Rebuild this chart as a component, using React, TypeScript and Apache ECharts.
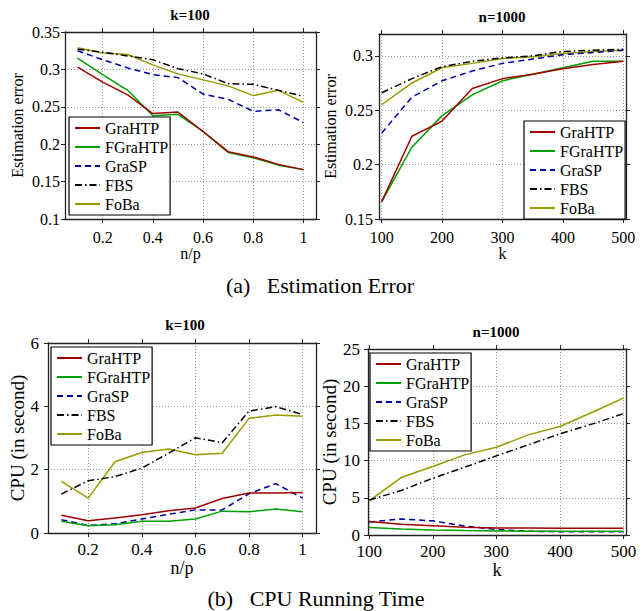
import React, { useEffect, useRef } from "react";
import * as echarts from "echarts";

const seriesNames = ["GraHTP", "FGraHTP", "GraSP", "FBS", "FoBa"];
const ratios = [0.1, 0.2, 0.3, 0.4, 0.5, 0.6, 0.7, 0.8, 0.9, 1.0];
const kValues = [100, 150, 200, 250, 300, 350, 400, 450, 500];

const ratioTicks = [0.2, 0.4, 0.6, 0.8, 1];
const kTicks = [100, 200, 300, 400, 500];
const errRatioTicks = [0.1, 0.15, 0.2, 0.25, 0.3, 0.35];
const errKTicks = [0.15, 0.2, 0.25, 0.3];
const cpuRatioTicks = [0, 2, 4, 6];
const cpuKTicks = [0, 5, 10, 15, 20, 25];

// (a) Estimation error, k=100, vs n/p
const errRatioGraHTP = [0.303, 0.283, 0.266, 0.241, 0.243, 0.217, 0.19, 0.183, 0.173, 0.166];
const errRatioFGraHTP = [0.315, 0.293, 0.272, 0.238, 0.24, 0.217, 0.189, 0.182, 0.172, 0.166];
const errRatioGraSP = [0.325, 0.313, 0.302, 0.293, 0.289, 0.267, 0.26, 0.244, 0.246, 0.229];
const errRatioFBS = [0.327, 0.323, 0.318, 0.313, 0.301, 0.294, 0.281, 0.28, 0.272, 0.264];
const errRatioFoBa = [0.329, 0.322, 0.32, 0.306, 0.294, 0.286, 0.278, 0.265, 0.272, 0.256];

// (a) Estimation error, n=1000, vs k
const errKGraHTP = [0.166, 0.226, 0.24, 0.27, 0.279, 0.283, 0.288, 0.292, 0.295];
const errKFGraHTP = [0.166, 0.216, 0.245, 0.264, 0.277, 0.283, 0.289, 0.295, 0.295];
const errKGraSP = [0.229, 0.262, 0.277, 0.286, 0.293, 0.297, 0.301, 0.303, 0.305];
const errKFBS = [0.266, 0.279, 0.29, 0.295, 0.298, 0.3, 0.304, 0.305, 0.306];
const errKFoBa = [0.255, 0.275, 0.289, 0.293, 0.2975, 0.299, 0.302, 0.304, 0.305];

// (b) CPU time, k=100, vs n/p
const cpuRatioGraHTP = [0.56, 0.39, 0.47, 0.58, 0.7, 0.79, 1.09, 1.26, 1.26, 1.28];
const cpuRatioFGraHTP = [0.37, 0.23, 0.26, 0.37, 0.37, 0.44, 0.69, 0.67, 0.755, 0.67];
const cpuRatioGraSP = [0.42, 0.24, 0.29, 0.44, 0.59, 0.73, 0.73, 1.24, 1.56, 1.1];
const cpuRatioFBS = [1.23, 1.65, 1.78, 2.05, 2.52, 3.01, 2.85, 3.85, 3.99, 3.74];
const cpuRatioFoBa = [1.63, 1.1, 2.25, 2.54, 2.65, 2.47, 2.52, 3.62, 3.73, 3.69];

// (b) CPU time, n=1000, vs k
const cpuKGraHTP = [1.8, 1.45, 1.25, 1.05, 0.95, 0.95, 0.9, 0.9, 0.9];
const cpuKFGraHTP = [1.0, 0.8, 0.68, 0.6, 0.55, 0.52, 0.5, 0.5, 0.52];
const cpuKGraSP = [1.75, 2.15, 1.9, 1.2, 0.75, 0.5, 0.45, 0.45, 0.45];
const cpuKFBS = [4.7, 5.97, 7.63, 9.1, 10.64, 12.12, 13.6, 14.9, 16.3];
const cpuKFoBa = [4.6, 7.72, 9.2, 10.77, 11.8, 13.46, 14.59, 16.47, 18.4];

const FONT = "Liberation Serif";

const lineStyles = [
  { color: "#a00000", type: "solid" as any },
  { color: "#00a000", type: "solid" as any },
  { color: "#0000a0", type: [6, 4] as any },
  { color: "#000000", type: [7, 3, 1.5, 3] as any },
  { color: "#999900", type: "solid" as any },
];

type Panel = {
  grid: { left: number; top: number; width: number; height: number };
  xs: number[];
  ys: number[][];
  xMin: number;
  xMax: number;
  xStep: number;
  xTicks: number[];
  yMin: number;
  yMax: number;
  yStep: number;
  yTicks: number[];
  xName: string;
  yName: string;
  xNameGap: number;
  yNameGap: number;
  xNameSize: number;
  yNameSize: number;
  tickSize: number;
  xLabelMargin: number;
  yLabelMargin: number;
  title: string;
  titleX: number;
  titleY: number;
  legend: { left: number; top: number };
};

const panels: Panel[] = [
  {
    grid: { left: 65, top: 32, width: 251, height: 187 },
    xs: ratios,
    ys: [errRatioGraHTP, errRatioFGraHTP, errRatioGraSP, errRatioFBS, errRatioFoBa],
    xMin: 0.05, xMax: 1.05, xStep: 0.2, xTicks: ratioTicks,
    yMin: 0.1, yMax: 0.35, yStep: 0.05, yTicks: errRatioTicks,
    xName: "n/p", yName: "Estimation error",
    xNameGap: 23, yNameGap: 40, xNameSize: 16, yNameSize: 16, tickSize: 16,
    xLabelMargin: 10, yLabelMargin: 5,
    title: "k=100", titleX: 190, titleY: 15,
    legend: { left: 69, top: 117 },
  },
  {
    grid: { left: 379, top: 34, width: 247, height: 185 },
    xs: kValues,
    ys: [errKGraHTP, errKFGraHTP, errKGraSP, errKFBS, errKFoBa],
    xMin: 95.5, xMax: 504.5, xStep: 100, xTicks: kTicks,
    yMin: 0.15, yMax: 0.32, yStep: 0.05, yTicks: errKTicks,
    xName: "k", yName: "Estimation error",
    xNameGap: 24, yNameGap: 41, xNameSize: 16, yNameSize: 16, tickSize: 16,
    xLabelMargin: 10, yLabelMargin: 6,
    title: "n=1000", titleX: 502, titleY: 17,
    legend: { left: 524, top: 121 },
  },
  {
    grid: { left: 48, top: 343, width: 268, height: 190 },
    xs: ratios,
    ys: [cpuRatioGraHTP, cpuRatioFGraHTP, cpuRatioGraSP, cpuRatioFBS, cpuRatioFoBa],
    xMin: 0.05, xMax: 1.05, xStep: 0.2, xTicks: ratioTicks,
    yMin: 0, yMax: 6, yStep: 2, yTicks: cpuRatioTicks,
    xName: "n/p", yName: "CPU (in second)",
    xNameGap: 23, yNameGap: 20, xNameSize: 18, yNameSize: 19, tickSize: 17,
    xLabelMargin: 8, yLabelMargin: 9,
    title: "k=100", titleX: 185, titleY: 325,
    legend: { left: 51, top: 347 },
  },
  {
    grid: { left: 368, top: 349, width: 258, height: 186 },
    xs: kValues,
    ys: [cpuKGraHTP, cpuKFGraHTP, cpuKGraSP, cpuKFBS, cpuKFoBa],
    xMin: 98, xMax: 504, xStep: 100, xTicks: kTicks,
    yMin: 0, yMax: 25, yStep: 5, yTicks: cpuKTicks,
    xName: "k", yName: "CPU (in second)",
    xNameGap: 22, yNameGap: 29, xNameSize: 18, yNameSize: 19, tickSize: 17,
    xLabelMargin: 8, yLabelMargin: 8,
    title: "n=1000", titleX: 496, titleY: 332,
    legend: { left: 370, top: 353 },
  },
];

const AXIS_COLOR = "#222";

function buildOption() {
  const grid: any[] = [];
  const xAxis: any[] = [];
  const yAxis: any[] = [];
  const series: any[] = [];
  const legend: any[] = [];
  const graphic: any[] = [];

  panels.forEach((p, gi) => {
    grid.push({ ...p.grid, containLabel: false });
    const common = {
      gridIndex: gi,
      type: "value",
      axisLine: { show: true, onZero: false, lineStyle: { color: AXIS_COLOR, width: 1.3 } },
    };
    xAxis.push({
      ...common,
      position: "bottom",
      min: p.xMin,
      max: p.xMax,
      minInterval: p.xStep,
      maxInterval: p.xStep,
      name: p.xName,
      nameLocation: "middle",
      nameGap: p.xNameGap,
      nameTextStyle: { fontFamily: FONT, fontSize: p.xNameSize, color: "#000" },
      axisTick: { show: true, length: 4, customValues: p.xTicks, lineStyle: { color: AXIS_COLOR } },
      axisLabel: {
        show: true,
        customValues: p.xTicks,
        margin: p.xLabelMargin,
        fontFamily: FONT,
        fontSize: p.tickSize,
        color: "#000",
      },
      splitLine: { show: true, lineStyle: { color: "#9a9a9a", type: [1, 2], width: 1 } },
    });
    xAxis.push({
      ...common,
      position: "top",
      min: p.xMin,
      max: p.xMax,
      minInterval: p.xStep,
      maxInterval: p.xStep,
      axisTick: { show: true, length: 4, customValues: p.xTicks, lineStyle: { color: AXIS_COLOR } },
      axisLabel: { show: false },
      splitLine: { show: false },
    });
    yAxis.push({
      ...common,
      position: "left",
      min: p.yMin,
      max: p.yMax,
      minInterval: p.yStep,
      maxInterval: p.yStep,
      name: p.yName,
      nameLocation: "middle",
      nameGap: p.yNameGap,
      nameTextStyle: { fontFamily: FONT, fontSize: p.yNameSize, color: "#000" },
      axisTick: { show: true, length: 4, customValues: p.yTicks, lineStyle: { color: AXIS_COLOR } },
      axisLabel: {
        show: true,
        customValues: p.yTicks,
        margin: p.yLabelMargin,
        fontFamily: FONT,
        fontSize: p.tickSize,
        color: "#000",
      },
      splitLine: { show: true, lineStyle: { color: "#9a9a9a", type: [1, 2], width: 1 } },
    });
    yAxis.push({
      ...common,
      position: "right",
      min: p.yMin,
      max: p.yMax,
      minInterval: p.yStep,
      maxInterval: p.yStep,
      axisTick: { show: true, length: 4, customValues: p.yTicks, lineStyle: { color: AXIS_COLOR } },
      axisLabel: { show: false },
      splitLine: { show: false },
    });

    p.ys.forEach((vals, si) => {
      series.push({
        type: "line",
        name: seriesNames[si],
        xAxisIndex: gi * 2,
        yAxisIndex: gi * 2,
        data: p.xs.map((x, i) => [x, vals[i]]),
        symbol: "none",
        showSymbol: false,
        silent: true,
        z: 2 + (4 - si) * 0.1,
        lineStyle: { color: lineStyles[si].color, width: 1.5, type: lineStyles[si].type },
        itemStyle: { color: lineStyles[si].color, opacity: 0 },
      });
    });

    legend.push({
      left: p.legend.left,
      top: p.legend.top,
      orient: "vertical",
      itemWidth: 25,
      itemHeight: 14,
      itemGap: 3,
      padding: [3, 2, 3, 5],
      borderColor: "#000",
      borderWidth: 1.2,
      backgroundColor: "#fff",
      selectedMode: false,
      textStyle: { fontFamily: FONT, fontSize: 16, color: "#000" },
      data: seriesNames,
    });

    graphic.push({
      type: "text",
      x: p.titleX,
      y: p.titleY,
      style: {
        text: p.title,
        font: `bold 15px ${FONT}`,
        fill: "#000",
        textAlign: "center",
        textVerticalAlign: "middle",
        align: "center",
        verticalAlign: "middle",
      },
    });
  });

  graphic.push({
    type: "text",
    x: 320,
    y: 285,
    style: {
      text: "(a)\u00a0\u00a0\u00a0Estimation Error",
      font: `22px ${FONT}`,
      fill: "#000",
      textAlign: "center",
      textVerticalAlign: "middle",
      align: "center",
      verticalAlign: "middle",
    },
  });
  graphic.push({
    type: "text",
    x: 316,
    y: 598,
    style: {
      text: "(b)\u00a0\u00a0\u00a0CPU Running Time",
      font: `22px ${FONT}`,
      fill: "#000",
      textAlign: "center",
      textVerticalAlign: "middle",
      align: "center",
      verticalAlign: "middle",
    },
  });

  return {
    animation: false,
    backgroundColor: "#fff",
    textStyle: { fontFamily: FONT },
    grid,
    xAxis,
    yAxis,
    series,
    legend,
    graphic,
  };
}

export default function App() {
  const ref = useRef<HTMLDivElement>(null);
  useEffect(() => {
    if (!ref.current) return;
    const chart = echarts.init(ref.current, undefined, { renderer: "svg" });
    chart.setOption(buildOption() as any);
    return () => chart.dispose();
  }, []);
  return (
    <div
      ref={ref}
      style={{ position: "fixed", left: 0, top: 0, width: 644, height: 611, background: "#fff" }}
    />
  );
}
